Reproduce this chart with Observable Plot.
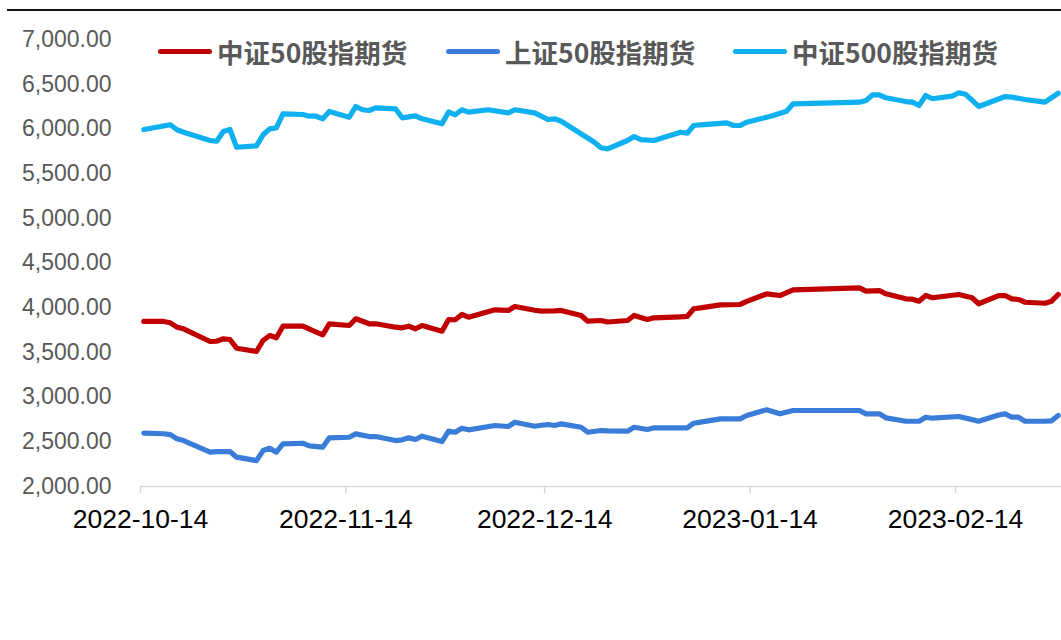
<!DOCTYPE html>
<html>
<head>
<meta charset="utf-8">
<script src="https://cdn.jsdelivr.net/npm/d3@7"></script>
<script src="https://cdn.jsdelivr.net/npm/@observablehq/plot@0.6"></script>
<style>
  html, body { margin: 0; padding: 0; background: #fff; }
  #wrap { position: relative; width: 1061px; height: 640px; overflow: hidden; }
  #topline { position: absolute; left: 7px; top: 9px; width: 1054px; height: 2px; background: #111; }
  #chart { position: absolute; left: 0; top: 0; }
  .lg { position: absolute; top: 36px; height: 30px; display: flex; align-items: center;
        font-family: "Noto Sans CJK SC", "Noto Sans", sans-serif; font-weight: 700; font-size: 26.5px;
        color: #595959; white-space: nowrap; }
  .sw { display: inline-block; width: 54px; height: 5px; border-radius: 3px; margin-right: 5px; }
</style>
</head>
<body>
<div id="wrap">
  <div id="chart"></div>
  <div id="topline"></div>
</div>
<script>
// ---- data ----
const seriesNames = ["中证50股指期货", "上证50股指期货", "中证500股指期货"];
const seriesColors = ["#C00000", "#3A7DD9", "#0EB0F0"];

const datesA = [
  "2022-10-14","2022-10-17","2022-10-18","2022-10-19","2022-10-20","2022-10-24","2022-10-25","2022-10-26","2022-10-27","2022-10-28","2022-10-31",
  "2022-11-01","2022-11-02","2022-11-03","2022-11-04","2022-11-07","2022-11-08","2022-11-10","2022-11-11","2022-11-14","2022-11-15","2022-11-17","2022-11-18",
  "2022-11-21","2022-11-22","2022-11-23","2022-11-24","2022-11-25","2022-11-28","2022-11-29","2022-11-30",
  "2022-12-01","2022-12-02","2022-12-06","2022-12-08","2022-12-09","2022-12-12","2022-12-13","2022-12-14","2022-12-15","2022-12-16",
  "2022-12-19","2022-12-20","2022-12-22","2022-12-23","2022-12-26","2022-12-27","2022-12-29","2022-12-30",
  "2023-01-03","2023-01-04","2023-01-05","2023-01-06","2023-01-09","2023-01-12","2023-01-13","2023-01-16","2023-01-18","2023-01-20",
  "2023-01-30","2023-01-31","2023-02-02","2023-02-03","2023-02-06","2023-02-07","2023-02-08","2023-02-09","2023-02-10",
  "2023-02-14","2023-02-16","2023-02-17","2023-02-20","2023-02-21","2023-02-22","2023-02-23","2023-02-24","2023-02-27","2023-02-28","2023-03-01"
];
const valuesZZ50 = [
  3846,3846,3831,3782,3764,3622,3625,3652,3644,3547,3510,
  3633,3689,3663,3793,3793,3760,3697,3820,3801,3876,3820,3820,
  3782,3775,3793,3764,3801,3737,3868,3865,
  3924,3894,3976,3969,4013,3972,3961,3963,3965,3969,
  3913,3849,3857,3840,3857,3913,3868,3887,
  3898,3902,3988,3998,4032,4036,4070,4155,4136,4200,
  4222,4185,4192,4155,4099,4095,4073,4136,4111,
  4148,4111,4044,4136,4136,4099,4092,4061,4050,4073,4148
];
const valuesSZ50 = [
  2596,2590,2581,2533,2514,2384,2391,2391,2391,2328,2290,
  2402,2428,2384,2477,2484,2455,2440,2544,2551,2589,2559,2559,
  2514,2522,2544,2526,2563,2503,2619,2607,
  2652,2634,2682,2671,2719,2674,2685,2693,2682,2701,
  2663,2607,2626,2622,2619,2663,2637,2656,
  2656,2656,2708,2720,2757,2757,2794,2858,2813,2850,
  2850,2813,2813,2768,2730,2730,2730,2775,2764,
  2783,2748,2730,2800,2813,2775,2775,2730,2730,2735,2794
];

const datesB = [
  "2022-10-14","2022-10-18","2022-10-19","2022-10-20","2022-10-24","2022-10-25","2022-10-26","2022-10-27","2022-10-28","2022-10-31",
  "2022-11-01","2022-11-02","2022-11-03","2022-11-04","2022-11-07","2022-11-08","2022-11-09","2022-11-10","2022-11-11","2022-11-14","2022-11-15","2022-11-16","2022-11-17","2022-11-18",
  "2022-11-21","2022-11-22","2022-11-23","2022-11-24","2022-11-25","2022-11-28","2022-11-29","2022-11-30",
  "2022-12-01","2022-12-02","2022-12-05","2022-12-08","2022-12-09","2022-12-12","2022-12-14","2022-12-15","2022-12-16",
  "2022-12-21","2022-12-22","2022-12-23","2022-12-26","2022-12-27","2022-12-28","2022-12-30",
  "2023-01-03","2023-01-04","2023-01-05","2023-01-06","2023-01-10","2023-01-11","2023-01-12","2023-01-13","2023-01-16","2023-01-17","2023-01-19","2023-01-20",
  "2023-01-30","2023-01-31","2023-02-01","2023-02-02","2023-02-03","2023-02-06","2023-02-07","2023-02-08","2023-02-09","2023-02-10",
  "2023-02-13","2023-02-14","2023-02-15","2023-02-17","2023-02-21","2023-02-22","2023-02-24","2023-02-27","2023-03-01"
];
const valuesZZ500 = [
  5993,6046,5990,5962,5870,5862,5971,5993,5795,5811,
  5934,6001,6012,6169,6161,6142,6142,6113,6195,6131,6251,6214,6206,6236,
  6225,6124,6135,6146,6113,6057,6190,6158,
  6214,6187,6214,6180,6214,6180,6105,6113,6086,
  5851,5789,5777,5870,5915,5881,5870,
  5963,5952,6038,6046,6068,6038,6038,6075,6131,6150,6198,6281,
  6299,6318,6381,6381,6348,6306,6299,6262,6374,6337,
  6366,6404,6388,6251,6362,6355,6329,6299,6399
];

const xTickLabels = ["2022-10-14","2022-11-14","2022-12-14","2023-01-14","2023-02-14"];
const yTickValues = [2000,2500,3000,3500,4000,4500,5000,5500,6000,6500,7000];
const xDomain = ["2022-10-14","2023-03-02"];

// ---- build ----
const parse = d3.utcParse("%Y-%m-%d");
// daily points sit in the middle of their day slot
const mid = s => d3.utcHour.offset(parse(s), 12);

const rows = [];
datesA.forEach((d, i) => {
  rows.push({date: mid(d), value: valuesZZ50[i], series: seriesNames[0]});
  rows.push({date: mid(d), value: valuesSZ50[i], series: seriesNames[1]});
});
datesB.forEach((d, i) => rows.push({date: mid(d), value: valuesZZ500[i], series: seriesNames[2]}));

const lineOpts = {strokeWidth: 5.2, strokeLinejoin: "round", strokeLinecap: "round"};

const chart = Plot.plot({
  width: 1061,
  height: 640,
  marginLeft: 140,
  marginRight: 0,
  marginTop: 39,
  marginBottom: 154,
  style: {background: "transparent", fontFamily: "'Liberation Sans', Arial, sans-serif", overflow: "visible"},
  x: {type: "utc", domain: xDomain.map(parse)},
  y: {domain: [2000, 7000]},
  color: {domain: seriesNames, range: seriesColors},
  marks: [
    Plot.axisY({ticks: yTickValues, tickFormat: d3.format(",.2f"), tickSize: 0, tickPadding: 29,
                fontSize: 23, fill: "#595959", label: null}),
    Plot.axisX({ticks: xTickLabels.map(parse), tickFormat: d3.utcFormat("%Y-%m-%d"), tickSize: 7, tickPadding: 16,
                fontSize: 26.5, fill: "#000", stroke: "#d9d9d9", strokeWidth: 1.5, label: null}),
    Plot.ruleY([2000], {stroke: "#d9d9d9", strokeWidth: 1.5}),
    ...seriesNames.map(name => Plot.line(rows.filter(r => r.series === name),
      {x: "date", y: "value", stroke: "series", ...lineOpts}))
  ]
});
document.getElementById("chart").appendChild(chart);

// legend
const legendLeft = [158, 446, 733];
const wrap = document.getElementById("wrap");
seriesNames.forEach((name, i) => {
  const item = document.createElement("div");
  item.className = "lg";
  item.style.left = legendLeft[i] + "px";
  const sw = document.createElement("span");
  sw.className = "sw";
  sw.style.background = seriesColors[i];
  const tx = document.createElement("span");
  tx.textContent = name;
  item.appendChild(sw);
  item.appendChild(tx);
  wrap.appendChild(item);
});
</script>
</body>
</html>
